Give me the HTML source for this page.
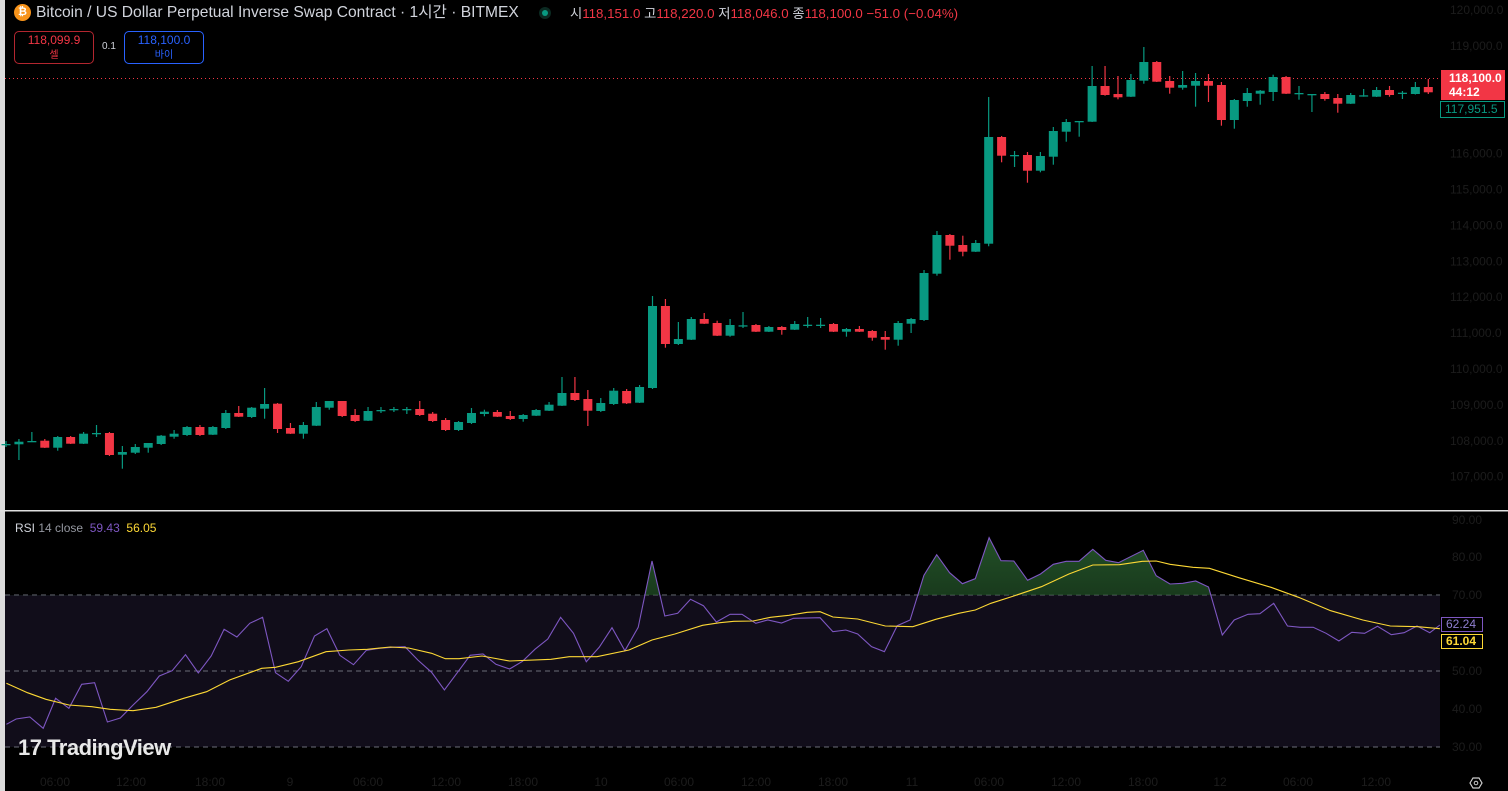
<!DOCTYPE html>
<html><head><meta charset="utf-8">
<style>
html,body{margin:0;padding:0;background:#000;width:1508px;height:791px;overflow:hidden;font-family:"Liberation Sans","Noto Sans CJK KR",sans-serif;}
svg{position:absolute;left:0;top:0}
.t{position:absolute;white-space:nowrap}
</style></head><body>
<svg id="s" width="1508" height="791" xmlns="http://www.w3.org/2000/svg"></svg>
<div class="t" style="left:14px;top:4px;width:17px;height:17px;border-radius:50%;background:#f7931a;color:#fff;font-size:11px;font-weight:bold;text-align:center;line-height:17px">₿</div>
<div class="t" style="left:36px;top:3px;font-size:15.6px;color:#d1d4dc;line-height:19px">Bitcoin / US Dollar Perpetual Inverse Swap Contract · 1시간 · BITMEX</div>
<div class="t" style="left:539px;top:7px;width:12px;height:12px;border-radius:50%;background:#0b2a22"><div style="margin:3px;width:6px;height:6px;border-radius:50%;background:#089981"></div></div>
<div class="t" style="left:570px;top:5px;font-size:13.3px;line-height:17px;color:#d1d4dc">시<span style="color:#f23645">118,151.0</span> 고<span style="color:#f23645">118,220.0</span> 저<span style="color:#f23645">118,046.0</span> 종<span style="color:#f23645">118,100.0</span> <span style="color:#f23645">−51.0 (−0.04%)</span></div>
<div class="t" style="left:14px;top:31px;width:78px;height:30px;border:1px solid #b3262f;border-radius:5px;text-align:center;color:#f23645;font-size:12px;line-height:14px;padding-top:1px">118,099.9<br><span style="font-size:10px">셀</span></div>
<div class="t" style="left:102px;top:41px;font-size:10px;color:#d1d4dc">0.1</div>
<div class="t" style="left:124px;top:31px;width:78px;height:30px;border:1px solid #2962ff;border-radius:5px;text-align:center;color:#2962ff;font-size:12px;line-height:14px;padding-top:1px">118,100.0<br><span style="font-size:10px">바이</span></div>
<div class="t" style="left:15px;top:521px;font-size:12px;color:#d1d4dc">RSI <span style="color:#9598a1">14 close</span> &nbsp;<span style="color:#7e57c2">59.43</span> &nbsp;<span style="color:#fdd835">56.05</span></div>
<div class="t" style="left:18px;top:735px;font-size:22px;font-weight:bold;color:#e8e8e8;letter-spacing:-0.5px">17 TradingView</div>
<div class="t" style="left:1441px;top:70px;width:64px;height:30px;background:#f23645;color:#fff;font-size:12px;font-weight:bold;line-height:14px;padding:1px 0 0 8px;box-sizing:border-box">118,100.0<br>44:12</div>
<div class="t" style="left:1440px;top:101px;width:65px;height:17px;border:1px solid #089981;box-sizing:border-box;color:#089981;font-size:12px;line-height:15px;padding-left:4px;background:#000">117,951.5</div>
<div class="t" style="left:1441px;top:617px;width:42px;height:15px;border:1px solid #7e57c2;box-sizing:border-box;color:#8f7fd0;font-size:12px;line-height:13px;padding-left:4px">62.24</div>
<div class="t" style="left:1441px;top:634px;width:42px;height:15px;border:1px solid #fdd835;box-sizing:border-box;color:#fdd835;font-size:12px;line-height:13px;padding-left:4px;font-weight:bold">61.04</div>
<script>
const S=document.getElementById('s');let h='';
const G='#089981',R='#f23645',AX='#1c1c1c';
h+='<rect x="0" y="0" width="5" height="791" fill="#dcdcdc"/>';
h+='<rect x="5" y="595" width="1435" height="152" fill="#110d1a"/>';
[595,671,747].forEach(y=>h+=`<line x1="5" x2="1440" y1="${y}" y2="${y}" stroke="#6a6d78" stroke-dasharray="5,4" stroke-width="1"/>`);
h+='<rect x="0" y="510" width="1508" height="1.5" fill="#e0e0e0"/>';
for(let p=120;p>=107;p--){if(p==118||p==117)continue;const y=10+(120-p)*35.9;h+=`<text x="1450" y="${y+4}" font-size="12" fill="${AX}">${p},000.0</text>`;}
h+=`<text x="1452" y="524" font-size="12" fill="${AX}">90.00</text>`;
[[80,561],[70,599],[50,675],[40,713],[30,751]].forEach(a=>h+=`<text x="1452" y="${a[1]}" font-size="12" fill="${AX}">${a[0]}.00</text>`);
const tl=[[55,'06:00'],[131,'12:00'],[210,'18:00'],[290,'9'],[368,'06:00'],[446,'12:00'],[523,'18:00'],[601,'10'],[679,'06:00'],[756,'12:00'],[833,'18:00'],[912,'11'],[989,'06:00'],[1066,'12:00'],[1143,'18:00'],[1220,'12'],[1298,'06:00'],[1376,'12:00']];
tl.forEach(a=>h+=`<text x="${a[0]}" y="786" font-size="12" fill="${AX}" text-anchor="middle">${a[1]}</text>`);
h+='<polygon points="1470,783 1473,778 1479,778 1482,783 1479,788 1473,788" fill="none" stroke="#ccc" stroke-width="1.2"/><circle cx="1476" cy="783" r="1.8" fill="none" stroke="#ccc"/>';
h+='<line x1="5" x2="1440" y1="78.5" y2="78.5" stroke="#f23645" stroke-dasharray="1,3" stroke-width="1"/>';
const C=[[444,444,441,447],[444.3,441.7,439,460],[442,441,432,442],[440.7,447.7,439,448],[447.7,437,436,450.7],[437,443.7,436,444],[443.7,433.7,432,444],[433,433,425,437],[433,455,432,456],[454.7,452,446,468.7],[452.7,447,444,454],[447.7,443,443,452.7],[444,435.7,435,445],[436.7,433.7,430,438.7],[435,427,426,436],[427,435,425,436],[434.7,427,426,435],[428,413,410,429],[413,416.7,406,417],[417,407.7,407,418],[408.7,404,388,418.7],[403.7,429,403,433],[428,433.7,423,434],[433.7,425,422,438.7],[425.7,407,402,426],[407.7,401,401,409.7],[401,416,401,417],[415,421,409,422],[420.7,411,407,421],[410,410,407,413],[409,409,407,412],[409,409,407,414],[409,415,401,416],[413.7,421,412,422],[420,430,418,431],[430,422,421,431],[423,413,408,424],[414,411.7,409.7,416.3],[412,416.7,410,417],[416,419,411,420],[419,415,414,421.7],[415.7,410,409,416],[410.7,404.7,402,411],[405.7,393,377,406],[393,400,377,401],[399,410.7,390,426],[411,403,398,412],[404,390.7,388,405],[391,403.3,389,404],[402.7,387,385,403],[388,306,296,389],[306,344,299,347.7],[344,339,322,345],[339.7,319,317,340],[319,323.7,313,324],[323,335.7,320.7,336],[335.7,325,319,336.7],[325.3,325.3,312,328],[325,331.7,324,332],[331.7,327,326,332],[327,330,326,334.7],[329.7,324,321,330],[324.7,324.7,317,327.7],[324.7,324.7,318,328],[324,331.7,323,332],[331.7,329,328,336.7],[329,331.7,326,332],[331,337.7,330,340.7],[337,339.7,331,349.7],[339.7,323,321,345.7],[323.7,319,318,333],[320,273,270,321],[273.7,235,231,275.7],[235,245.7,234,259.7],[245,251.7,235.7,256.3],[251.7,243,240,252],[243.7,137,97,246.3],[137,155.7,136,162.3],[155,155,151,167],[155,170.7,152,182.7],[170.7,156,152,172.3],[156.7,131,127,164.7],[131.7,122,119,141.7],[121,121,121,136.7],[121.7,86,66,122],[86,95,66,95.7],[94,97.3,76,99.3],[96.7,80,74,97],[80.7,62,47,83.7],[62,81.7,61,82],[81,87.7,76,93.7],[87.7,85,71,89.7],[85.7,81,73,106.7],[81,85.7,74,102],[85,120,82,125.7],[120,100,99,128.7],[101,93,88,106.7],[93.7,90.7,90,104.7],[92,77,74.7,101],[77,93.7,76,94],[93,93,86,99.7],[94,94,94,112],[94,99,92,100.7],[98,103.7,94,112.7],[103.7,95,93,104],[95.3,95.3,89,96.7],[96.7,90,87,97],[90,95,86,96.7],[94,92.7,91,99],[94,87,82,94.5],[87,92.3,79,94],[92,84,83,93]];
C.forEach((c,i)=>{const x=6+12.93*i;if(x>1440)return;const col=c[1]<c[0]?G:(c[1]>c[0]?R:G);
const t=Math.min(c[0],c[1]),b=Math.max(c[0],c[1]);
h+=`<line x1="${x}" x2="${x}" y1="${c[2]}" y2="${c[3]}" stroke="${col}" stroke-width="1.2"/>`;
const bw=Math.min(9,1440-x+4.5);
h+=`<rect x="${x-4.5}" y="${t}" width="${bw}" height="${Math.max(b-t,1.3)}" fill="${col}"/>`;});
const r1=[[14,643],[35,627],[65,621],[94,655],[121,565],[150,595],[178,523],[206,518],[234,636],[262,624],[290,585],[320,545],[347,498],[375,482],[404,434],[432,489],[460,438],[488,358],[516,381],[544,340],[572,322],[600,488],[628,514],[656,470],[685,378],[712,356],[740,436],[770,464],[798,421],[826,415],[854,412],[882,410],[910,450],[940,487],[968,540],[996,488],[1024,436],[1052,432],[1080,463],[1110,477],[1138,454],[1165,418],[1193,387],[1221,322],[1249,370],[1277,455],[1305,412],[1333,353],[1361,422],[1390,352],[1420,153],[1448,318],[1476,310],[1504,268],[1532,287],[1560,336]];
const r2=[[0,330],[22,313],[48,313],[78,340],[104,330],[134,339],[160,325],[218,323],[246,365],[274,360],[300,372],[330,410],[358,425],[386,347],[414,330],[444,196],[472,134],[500,188],[528,221],[556,206],[586,83],[612,152],[640,153],[670,211],[698,192],[726,163],[754,154],[782,154],[812,118],[840,151],[868,158],[922,121],[950,197],[980,222],[1008,220],[1036,213],[1064,231],[1094,375],[1120,330],[1150,313],[1176,311],[1206,280],[1236,348],[1264,352],[1292,352],[1320,370],[1348,393],[1376,367],[1404,370],[1432,349],[1462,374],[1490,368],[1518,348],[1546,368],[1568,345]];
const m1=[[14,520],[60,548],[100,568],[150,585],[200,590],[240,598],[290,602],[340,592],[400,565],[450,545],[500,510],[570,475],[600,472],[650,455],[710,425],[760,420],[800,418],[850,411],[890,414],[940,430],[970,446],[1000,446],[1050,438],[1110,453],[1200,448],[1240,440],[1300,440],[1370,420],[1420,390],[1470,372],[1530,346],[1568,338]];
const m2=[[30,334],[72,333],[110,322],[150,316],[190,307],[218,305],[246,321],[300,327],[360,348],[420,350],[470,328],[520,310],[556,300],[590,280],[640,258],[700,230],[760,192],[812,165],[870,164],[920,154],[950,153],[980,163],[1030,172],[1066,175],[1130,203],[1200,232],[1260,262],[1330,302],[1400,330],[1460,348],[1520,350],[1568,356]];
const cv=(a,o)=>a.map(p=>[o+p[0]/2.178,510+p[1]/3]);
const rsi=cv(r1,0).concat(cv(r2,720).filter(p=>p[0]>=720));
const ma=cv(m1,0).concat(cv(m2,720));
h+='<defs><linearGradient id="gg" x1="0" y1="0" x2="0" y2="1"><stop offset="0" stop-color="#2e6b35" stop-opacity="0.75"/><stop offset="1" stop-color="#0a1a0c" stop-opacity="0.6"/></linearGradient><clipPath id="ab"><rect x="0" y="0" width="1508" height="595.3"/></clipPath></defs>';
const pts=rsi.map(p=>p[0].toFixed(1)+','+p[1].toFixed(1)).join(' ');
h+=`<polygon clip-path="url(#ab)" points="${rsi[0][0]},595.3 ${pts} ${rsi[rsi.length-1][0]},595.3" fill="url(#gg)"/>`;
h+=`<polyline points="${pts}" fill="none" stroke="#7e57c2" stroke-width="1.1"/>`;
h+=`<polyline points="${ma.map(p=>p[0].toFixed(1)+','+p[1].toFixed(1)).join(' ')}" fill="none" stroke="#fdd835" stroke-width="1.1"/>`;
S.innerHTML=h;
</script>
</body></html>
